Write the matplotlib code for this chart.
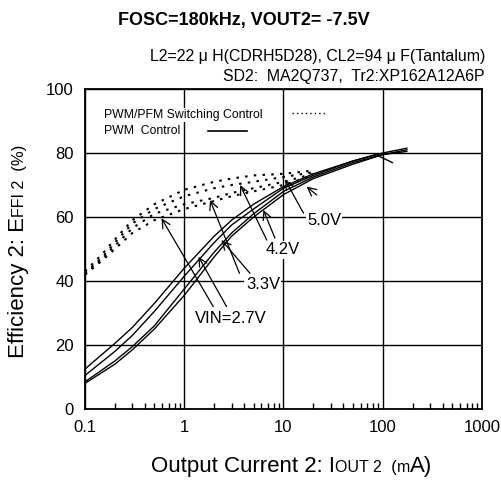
import matplotlib
matplotlib.use("Agg")
import matplotlib.pyplot as plt
from matplotlib.transforms import IdentityTransform
from matplotlib.ticker import FixedLocator, FixedFormatter, NullFormatter

plt.rcParams['font.family'] = ['Liberation Sans', 'DejaVu Sans']

# PWM control (solid lines), output current in mA -> efficiency in %
pwm_i_27 = [0.1, 0.2, 0.3, 0.5, 1, 2, 3, 5, 10, 20, 50, 85, 125]
pwm_e_27 = [12.5, 20.5, 25.5, 33, 44, 54, 59, 64, 69.5, 73.5, 77.5, 79.5, 77]
pwm_i = [0.1, 0.2, 0.3, 0.5, 1, 2, 3, 5, 10, 20, 50, 100, 175]
pwm_e_33 = [10.5, 18, 23, 30.5, 41.5, 52, 57.5, 62.5, 69, 73, 77.5, 80, 81.5]
pwm_e_42 = [8.5, 15, 19.5, 26, 37.5, 49, 55, 61, 68, 72.5, 77, 79.5, 81]
pwm_e_50 = [8, 14, 18.5, 25, 35.5, 47.5, 54, 60, 67, 72, 76.5, 79.5, 80.5]

# PWM/PFM switching control (dotted lines)
pfm_i = [0.1, 0.15, 0.2, 0.3, 0.5, 1, 2, 3, 5, 10, 20]
pfm_e_27 = [42, 46.5, 50, 55, 59, 62.5, 65, 66.5, 68, 70, 73]
pfm_e_33 = [42, 47, 51, 56.5, 61, 64, 66, 67.5, 69, 71, 73.5]
pfm_e_42 = [42.5, 47.5, 52, 58, 62.5, 66.5, 69, 70, 71, 72.5, 74]
pfm_e_50 = [43, 48.5, 53, 59, 64, 68.5, 71, 72, 73, 73.5, 74.5]

# curve labels: text, label position, arrows (start, tip)
labels = ["5.0V", "4.2V", "3.3V", "VIN=2.7V"]
label_pos = [(25.6, 58.8), (9.9, 49.7), (6.2, 38.8), (2.96, 28.4)]
label_arrows = [
    [((15.9, 61.2), (10.4, 71.6)), ((21.6, 66.9), (17.1, 69.5))],
    [((6.78, 52.8), (3.65, 70)), ((8.2, 53.4), (6.27, 62.2))],
    [((3.6, 42.4), (1.82, 65.3)), ((4.6, 42.4), (2.37, 52.8))],
    [((1.96, 32.0), (0.59, 59.6)), ((2.67, 32.0), (1.39, 47.6))],
]

x_ticks = [0.1, 1, 10, 100, 1000]
x_tick_labels = ["0.1", "1", "10", "100", "1000"]
y_ticks = [0, 20, 40, 60, 80, 100]

fig = plt.figure(figsize=(5.02, 4.82), dpi=100)
ax = fig.add_axes([85 / 502, 1 - 409 / 482, 397 / 502, 320 / 482])
ax.set_xscale('log')
ax.set_xlim(0.1, 1000)
ax.set_ylim(0, 100)

ax.xaxis.set_major_locator(FixedLocator(x_ticks))
ax.xaxis.set_major_formatter(FixedFormatter(x_tick_labels))
minor = [m * d for d in x_ticks[:-1] for m in range(2, 10)]
ax.xaxis.set_minor_locator(FixedLocator(minor))
ax.xaxis.set_minor_formatter(NullFormatter())
ax.set_yticks(y_ticks)
ax.tick_params(axis='both', which='major', length=0, labelsize=12, pad=8)
ax.tick_params(axis='x', which='minor', direction='in', length=4, width=1, top=False)
ax.grid(True, which='major', color='black', lw=1)
ax.set_axisbelow(True)
for s in ax.spines.values():
    s.set_linewidth(1.3)

solid = dict(color='black', lw=1.0, zorder=3)
dotted = dict(color='black', lw=1.5, ls=(0, (1.2, 3.0)), zorder=3)
ax.plot(pwm_i_27, pwm_e_27, **solid)
ax.plot(pwm_i, pwm_e_33, **solid)
ax.plot(pwm_i, pwm_e_42, **solid)
ax.plot(pwm_i, pwm_e_50, **solid)
ax.plot(pfm_i, pfm_e_27, **dotted)
ax.plot(pfm_i, pfm_e_33, **dotted)
ax.plot(pfm_i, pfm_e_42, **dotted)
ax.plot(pfm_i, pfm_e_50, **dotted)

arrow = dict(arrowstyle='->,head_length=0.6,head_width=0.3', color='black', lw=0.9,
             shrinkA=0, shrinkB=0)
for txt, pos, arrs in zip(labels, label_pos, label_arrows):
    ax.text(pos[0], pos[1], txt, fontsize=12, ha='center', va='center', zorder=5,
            bbox=dict(facecolor='white', edgecolor='none', pad=1))
    for start, tip in arrs:
        ax.annotate('', xy=tip, xytext=start, arrowprops=arrow, zorder=4)

# legend
ax.text(0.048, 0.919, "PWM/PFM Switching Control", transform=ax.transAxes, fontsize=8.8,
        va='center', bbox=dict(facecolor='white', edgecolor='none', pad=1), zorder=5)
ax.text(0.048, 0.869, "PWM  Control", transform=ax.transAxes, fontsize=8.8,
        va='center', bbox=dict(facecolor='white', edgecolor='none', pad=1), zorder=5)
ax.plot([0.521, 0.605], [0.925, 0.925], transform=ax.transAxes, color='black',
        lw=1, ls=(0, (1, 2.2)), zorder=5)
ax.plot([0.310, 0.408], [0.869, 0.869], transform=ax.transAxes, color='black',
        lw=1.2, zorder=5)

# titles
fig.text(244 / 502, 1 - 20 / 482, "FOSC=180kHz, VOUT2= -7.5V", fontsize=13,
         fontweight='bold', ha='center', va='center')
fig.text(485 / 502, 1 - 57 / 482, "L2=22 \u03bc H(CDRH5D28), CL2=94 \u03bc F(Tantalum)",
         fontsize=11.4, ha='right', va='center')
fig.text(485 / 502, 1 - 76 / 482, "SD2:  MA2Q737,  Tr2:XP162A12A6P",
         fontsize=11.4, ha='right', va='center')


def rich_label(pieces, cx, cy, vertical=False):
    """place text pieces of different sizes on one baseline, centred at (cx, cy) px"""
    fig.canvas.draw()
    r = fig.canvas.get_renderer()
    texts = []
    rot = 90 if vertical else 0
    for s, size in pieces:
        t = fig.text(0, 0, s, fontsize=size, transform=IdentityTransform(),
                     ha='left', va='baseline', rotation=rot, rotation_mode='anchor')
        texts.append(t)
    lens = []
    for t in texts:
        bb = t.get_window_extent(r)
        lens.append(bb.height if vertical else bb.width)
    total = sum(lens)
    pos = -total / 2
    for t, L in zip(texts, lens):
        if vertical:
            t.set_position((cx + 6, cy + pos))
        else:
            t.set_position((cx + pos, cy - 6))
        pos += L


H = 482
rich_label([("Output Current 2: I", 16), ("OUT 2", 11.5), ("  (", 12), ("m", 11.5), ("A)", 16)],
           292, H - 466)
rich_label([("Efficiency 2: E", 16), ("FFI 2", 11.5), ("  (%)", 12)], 18, H - 251, vertical=True)

fig.savefig("out.png", dpi=100)
